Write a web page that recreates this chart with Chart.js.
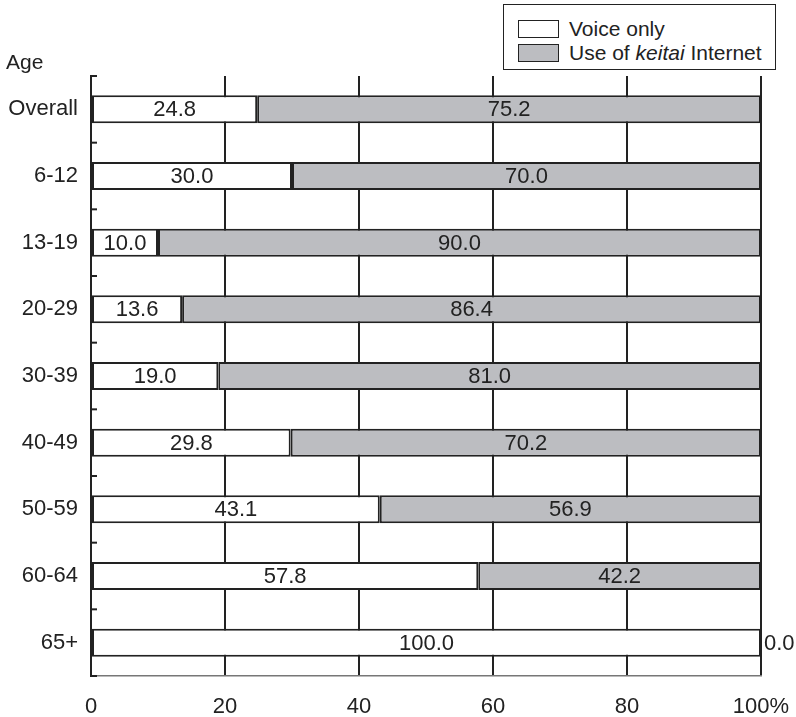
<!DOCTYPE html>
<html>
<head>
<meta charset="utf-8">
<script src="https://cdn.jsdelivr.net/npm/chart.js@4"></script>
<style>
  html, body { margin: 0; padding: 0; background: #fff; }
  #wrap { position: relative; width: 796px; height: 717px; font-family: "Liberation Sans", Arial, sans-serif; }
  canvas { position: absolute; left: 0; top: 0; }
  #legend { position: absolute; left: 503px; top: 4px; width: 273px; height: 66px; border: 1.5px solid #222; box-sizing: border-box; background: #fff; }
  .item { position: absolute; left: 14px; height: 22px; font-size: 21px; line-height: 22px; color: #222; }
  .sw { position: absolute; left: 0; top: 2px; width: 41px; height: 18px; border: 1.5px solid #222; box-sizing: border-box; }
  .item span.t { position: absolute; left: 51px; top: 0; white-space: nowrap; }
  #age { position: absolute; left: 6px; top: 50px; font-size: 21px; line-height: 24px; color: #222; }
</style>
</head>
<body>
<div id="wrap">
  <canvas id="c" width="796" height="717"></canvas>
  <div id="age">Age</div>
  <div id="legend">
    <div class="item" style="top:13px"><div class="sw" style="background:#fff"></div><span class="t">Voice only</span></div>
    <div class="item" style="top:37px"><div class="sw" style="background:#bcbdc1"></div><span class="t">Use of <i>keitai</i> Internet</span></div>
  </div>
</div>
<script>
const categories = ["Overall", "6-12", "13-19", "20-29", "30-39", "40-49", "50-59", "60-64", "65+"];
const voiceOnly = [24.8, 30.0, 10.0, 13.6, 19.0, 29.8, 43.1, 57.8, 100.0];
const keitaiInternet = [75.2, 70.0, 90.0, 86.4, 81.0, 70.2, 56.9, 42.2, 0.0];
const xTicks = [0, 20, 40, 60, 80, 100];

const FONT = '"Liberation Sans", Arial, sans-serif';

const labelPlugin = {
  id: 'segLabels',
  afterDatasetsDraw(chart) {
    const ctx = chart.ctx;
    ctx.save();
    ctx.font = '22px ' + FONT;
    ctx.fillStyle = '#222';
    ctx.textBaseline = 'middle';
    chart.data.datasets.forEach((ds, di) => {
      const meta = chart.getDatasetMeta(di);
      meta.data.forEach((bar, i) => {
        const v = ds.data[i];
        const txt = v.toFixed(1);
        if (v === 0) {
          ctx.textAlign = 'left';
          ctx.fillText(txt, bar.x + 3, bar.y + 1);
        } else {
          ctx.textAlign = 'center';
          ctx.fillText(txt, (bar.base + bar.x) / 2, bar.y + 1);
        }
      });
    });
    ctx.restore();
  }
};

const yTickPlugin = {
  id: 'yTicks',
  afterDraw(chart) {
    const ctx = chart.ctx;
    const y = chart.scales.y;
    const x0 = chart.scales.x.getPixelForValue(0);
    const step = y.getPixelForValue(1) - y.getPixelForValue(0);
    ctx.save();
    ctx.strokeStyle = '#222';
    ctx.lineWidth = 2;
    const n = categories.length;
    for (let i = 0; i <= n; i++) {
      const py = (i < n) ? y.getPixelForValue(i) - step / 2 : y.getPixelForValue(n - 1) + step / 2;
      ctx.beginPath();
      ctx.moveTo(x0, py);
      ctx.lineTo(x0 + 6, py);
      ctx.stroke();
    }
    ctx.restore();
  }
};

new Chart(document.getElementById('c'), {
  type: 'bar',
  data: {
    labels: categories,
    datasets: [
      { label: 'Voice only', data: voiceOnly, backgroundColor: '#ffffff', borderColor: '#222', borderWidth: 2, borderSkipped: false, barPercentage: 0.42, categoryPercentage: 1 },
      { label: 'Use of keitai Internet', data: keitaiInternet, backgroundColor: '#bcbdc1', borderColor: '#222', borderWidth: 2, borderSkipped: false, barPercentage: 0.42, categoryPercentage: 1 }
    ]
  },
  options: {
    indexAxis: 'y',
    responsive: false,
    animation: false,
    layout: { padding: { top: 76, right: 35, left: 0, bottom: 0 } },
    plugins: { legend: { display: false }, tooltip: { enabled: false } },
    scales: {
      x: {
        stacked: true,
        min: 0, max: 100,
        afterBuildTicks(scale) { scale.ticks = xTicks.map(v => ({ value: v })); },
        afterFit(scale) { scale.height = 41; scale.paddingLeft = 0; scale.paddingRight = 0; },
        grid: { color: '#222', lineWidth: 2, drawTicks: false },
        border: { display: true, color: '#777', width: 1.5 },
        ticks: {
          padding: 18,
          color: '#222',
          font: { family: FONT, size: 22 },
          callback: (v) => v === 100 ? '100%' : String(v)
        }
      },
      y: {
        stacked: true,
        afterFit(scale) { scale.width = 91; },
        grid: { display: false, drawTicks: false },
        border: { display: true, color: '#222', width: 2 },
        ticks: {
          padding: 13,
          color: '#222',
          font: { family: FONT, size: 22 }
        }
      }
    }
  },
  plugins: [labelPlugin, yTickPlugin]
});
</script>
</body>
</html>
